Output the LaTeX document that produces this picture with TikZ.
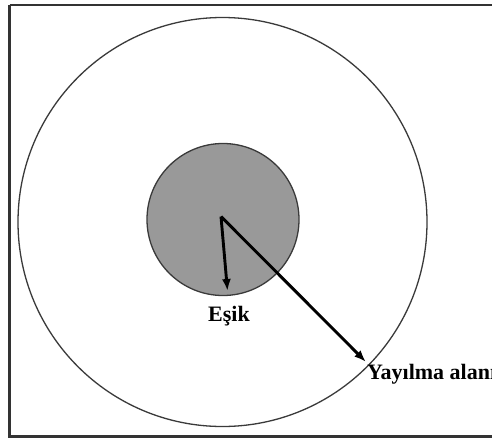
\documentclass[tikz,border=0pt]{standalone}
\usepackage{fontspec}
\setmainfont{Liberation Serif}
\usetikzlibrary{arrows.meta}
\definecolor{framegray}{HTML}{333333}
\definecolor{diskgray}{HTML}{999999}
\definecolor{ringgray}{HTML}{3A3A3A}
\begin{document}
\begin{tikzpicture}[x=1pt,y=-1pt,
  frameline/.style={draw=framegray,line width=2.2pt},
  ring/.style={circle,draw=ringgray,line width=1.3pt,inner sep=0pt},
  disk/.style={circle,draw=ringgray,fill=diskgray,line width=1.3pt,inner sep=0pt},
  radius arrow/.style={draw=black,line width=2.9pt,-{Latex[length=12pt,width=9pt]}},
  lbl/.style={font=\fontsize{22}{24}\selectfont\bfseries,inner sep=0pt}]
\useasboundingbox (0,0) rectangle (492,439);
\fill[white] (0,0) rectangle (492,439);
\draw[frameline] (9.5,5) -- (9.5,436.5) -- (500,436.5);
\draw[frameline] (9.5,5) -- (500,5);
\node[ring,minimum size=409pt] (outer) at (222.5,222) {};
\node[disk,minimum size=152pt] (inner) at (223,219.5) {};
\coordinate (c) at (221,216.5);
\coordinate (tipA) at (227.5,291);
\coordinate (tipB) at (366,362);
\draw[radius arrow] (c) -- (tipA);
\draw[radius arrow] (c) -- (tipB);
\node[lbl,anchor=base] (esik) at (229,321.5) {Eşik};
\node[lbl,anchor=base west] (yay) at (367,379) {Yayılma alanı};
\end{tikzpicture}
\end{document}
